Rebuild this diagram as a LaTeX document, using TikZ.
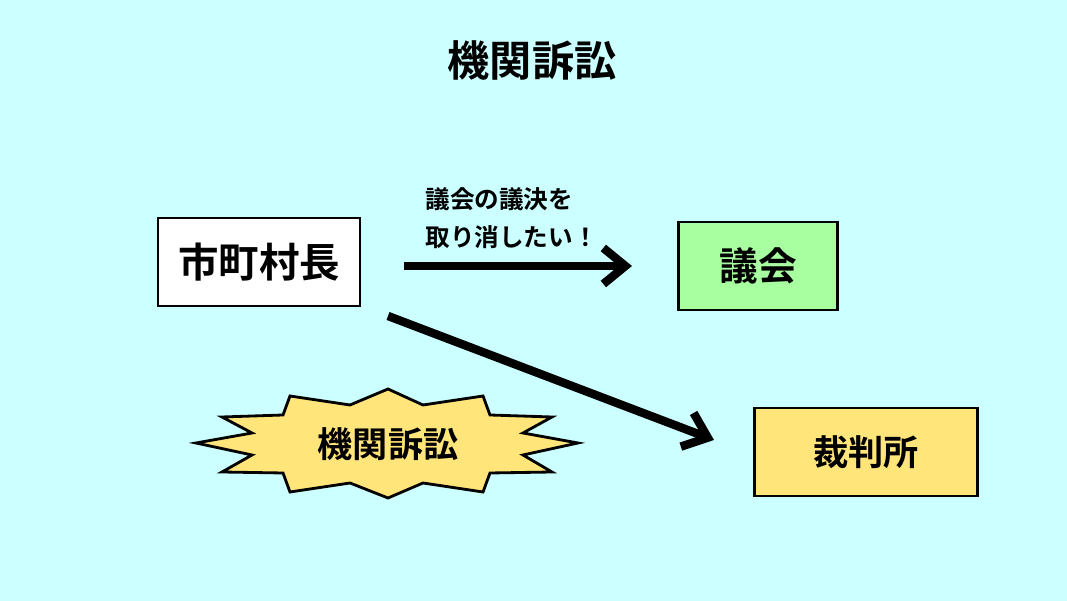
\documentclass[tikz,border=0pt]{standalone}
\usepackage{fontspec}
\setmainfont{Noto Sans CJK JP Bold}
\usetikzlibrary{arrows.meta,positioning}
\definecolor{bgcyan}{HTML}{CCFFFF}
\definecolor{boxgreen}{HTML}{A8FFA0}
\definecolor{boxyellow}{HTML}{FFE57A}

\begin{document}
\begin{tikzpicture}[x=0.01cm, y=-0.01cm,
  box/.style={rectangle, draw, line width=0.8pt, inner sep=0pt},
  arr/.style={-{Straight Barb[length=2.2mm, width=3.6mm]}, line width=2.4pt},
  lbl/.style={font=\fontsize{#1}{#1}\selectfont, inner sep=0pt}
]
  \fill[bgcyan] (0,0) rectangle (1067,601);
  \useasboundingbox (0,0) rectangle (1067,601);

  \node[lbl=12pt] (title) at (532,60) {機関訴訟};

  \node[box, fill=white, minimum width=2.02cm, minimum height=0.88cm,
        lbl=11.5pt] (mayor) at (259,262) {市町村長};
  \node[box, fill=boxgreen, minimum width=1.59cm, minimum height=0.88cm,
        lbl=11pt] (council) at (758,266) {議会};
  \node[box, fill=boxyellow, minimum width=2.23cm, minimum height=0.88cm,
        lbl=10pt] (court) at (866,452) {裁判所};

  \coordinate (a1) at (404,266);
  \coordinate (a2) at (632,266);
  \draw[arr] (a1) -- (a2);
  \node[lbl=7pt, align=left, text width=1.65cm] (wish) at (508,218)
    {議会の議決を\\[4pt]取り消したい！};
  \coordinate (b1) at (388,316);
  \coordinate (b2) at (714,440);
  \draw[arr] (b1) -- (b2);

  % starburst
  \draw[line width=0.8pt, fill=boxyellow]
    (196,443) -- (252,433) -- (222,417) -- (283,415) -- (290,396) --
    (350,405) -- (388,389) -- (423,405) -- (483,396) -- (490,415) --
    (552,417) -- (523,433) -- (578,443) -- (523,455) -- (552,472) --
    (490,473) -- (483,492) -- (423,483) -- (388,498) -- (350,483) --
    (290,492) -- (283,473) -- (222,472) -- (252,455) -- cycle;
  \node[lbl=10pt] (suit) at (388,444) {機関訴訟};
\end{tikzpicture}
\end{document}
